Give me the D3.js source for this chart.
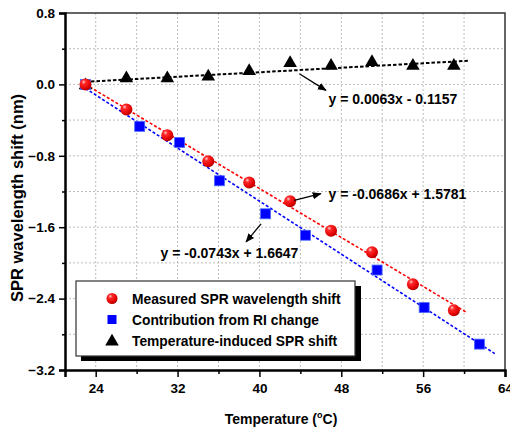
<!DOCTYPE html>
<html>
<head>
<meta charset="utf-8">
<script src="https://cdn.jsdelivr.net/npm/d3@7"></script>
<style>
  body { margin: 0; background: #fff; }
  svg { display: block; font-family: Arial, "Liberation Sans", sans-serif; font-weight: bold; }
</style>
</head>
<body>
<div id="chart"></div>
<script>
// data
var tempMeasured = [23, 27, 31, 35, 39, 43, 47, 51, 55, 59];
var measuredShift = [0.00, -0.28, -0.57, -0.86, -1.10, -1.31, -1.64, -1.88, -2.24, -2.53];
var tempRI = [23, 28.3, 32.2, 36.1, 40.6, 44.5, 51.5, 56.1, 61.5];
var riShift = [0.00, -0.47, -0.65, -1.08, -1.45, -1.69, -2.08, -2.50, -2.91];
var tempInduced = [23, 27, 31, 35, 39, 43, 47, 51, 55, 59];
var inducedShift = [0.00, 0.08, 0.08, 0.10, 0.16, 0.25, 0.22, 0.26, 0.22, 0.22];

var fitSlopes = [-0.0686, -0.0743, 0.0063];
var fitIntercepts = [1.5781, 1.6647, -0.1157];
var fitRanges = [[23, 60.3], [23, 63], [23, 60.4]];
var fitLabels = ['y = -0.0686x + 1.5781', 'y = -0.0743x + 1.6647', 'y = 0.0063x - 0.1157'];

var legendLabels = ['Measured SPR wavelength shift', 'Contribution from RI change', 'Temperature-induced SPR shift'];

var xTicks = [24, 32, 40, 48, 56, 64];
var yTicks = [0.8, 0.0, -0.8, -1.6, -2.4, -3.2];

var width = 510, height = 431;
var margin = {top: 13, right: 5, bottom: 61, left: 65};

var svg = d3.select('#chart').append('svg')
    .attr('width', width)
    .attr('height', height);

var x = d3.scaleLinear().domain([21, 64]).range([margin.left, width - margin.right]);
var y = d3.scaleLinear().domain([-3.2, 0.8]).range([height - margin.bottom, margin.top]);

var defs = svg.append('defs');
var grad = defs.append('radialGradient').attr('id', 'ball')
    .attr('cx', '35%').attr('cy', '30%').attr('r', '70%');
grad.append('stop').attr('offset', '0%').attr('stop-color', '#ffd0d0');
grad.append('stop').attr('offset', '25%').attr('stop-color', '#ff2a2a');
grad.append('stop').attr('offset', '80%').attr('stop-color', '#e00000');
grad.append('stop').attr('offset', '100%').attr('stop-color', '#b00000');

defs.append('marker').attr('id', 'arrow')
    .attr('viewBox', '0 0 10 10').attr('refX', 9).attr('refY', 5)
    .attr('markerWidth', 9).attr('markerHeight', 9)
    .attr('markerUnits', 'userSpaceOnUse')
    .attr('orient', 'auto')
  .append('path').attr('d', 'M0,1 L10,5 L0,9 Z').attr('fill', '#000');

// grid
var gridX = d3.range(24, 64, 4);
var gridY = d3.range(-2.8, 0.8, 0.4);
svg.append('g').selectAll('line').data(gridX).enter().append('line')
    .attr('x1', function(d) { return x(d); }).attr('x2', function(d) { return x(d); })
    .attr('y1', y(0.8)).attr('y2', y(-3.2))
    .attr('stroke', '#bdbdbd').attr('stroke-width', 1).attr('stroke-dasharray', '2,2');
svg.append('g').selectAll('line').data(gridY).enter().append('line')
    .attr('x1', x(21)).attr('x2', x(64))
    .attr('y1', function(d) { return y(d); }).attr('y2', function(d) { return y(d); })
    .attr('stroke', '#bdbdbd').attr('stroke-width', 1).attr('stroke-dasharray', '2,2');

// frame top/right
svg.append('path')
    .attr('d', 'M' + x(21) + ',' + y(0.8) + 'H' + x(64) + 'V' + y(-3.2))
    .attr('fill', 'none').attr('stroke', '#333').attr('stroke-width', 1.5);

// axes
var xAxis = svg.append('g')
    .attr('transform', 'translate(0,' + y(-3.2) + ')')
    .call(d3.axisBottom(x).tickValues(xTicks).tickSize(7).tickPadding(4).tickFormat(d3.format('d')));
svg.append('g')
    .attr('transform', 'translate(0,' + y(-3.2) + ')')
    .call(d3.axisBottom(x).tickValues(d3.range(28, 64, 8)).tickSize(4).tickFormat(''))
    .select('.domain').remove();
var yAxis = svg.append('g')
    .attr('transform', 'translate(' + x(21) + ',0)')
    .call(d3.axisLeft(y).tickValues(yTicks).tickSize(6).tickPadding(4).tickFormat(d3.format('.1f')));
svg.append('g')
    .attr('transform', 'translate(' + x(21) + ',0)')
    .call(d3.axisLeft(y).tickValues(d3.range(-2.8, 0.8, 0.8)).tickSize(3).tickFormat(''))
    .select('.domain').remove();

svg.selectAll('.domain').attr('stroke', '#000').attr('stroke-width', 2.5);
svg.selectAll('.tick line').attr('stroke', '#000').attr('stroke-width', 1.5);
svg.selectAll('.tick text').attr('font-size', 13.5).attr('font-weight', 'bold')
    .attr('font-family', 'Arial, "Liberation Sans", sans-serif').attr('fill', '#000');
xAxis.selectAll('.tick text').attr('dy', '0.9em');

// axis titles
var xt = svg.append('text')
    .attr('x', 281).attr('y', 424)
    .attr('text-anchor', 'middle').attr('font-size', 14)
    .text('Temperature (');
xt.append('tspan').attr('font-size', 9).attr('dy', -6).text('o');
xt.append('tspan').attr('dy', 6).text('C)');

svg.append('text')
    .attr('transform', 'translate(23,' + 198 + ') rotate(-90)')
    .attr('text-anchor', 'middle').attr('font-size', 16.5)
    .text('SPR wavelength shift (nm)');

// fit lines
var fitColors = ['#ff0000', '#0000ff', '#000000'];
var fitDash = ['3,2', '3,2', '3.5,2'];
var fits = fitSlopes.map(function(s, i) {
  return {slope: s, b: fitIntercepts[i], r: fitRanges[i], c: fitColors[i], dash: fitDash[i]};
});
svg.append('g').selectAll('line').data(fits).enter().append('line')
    .attr('x1', function(d) { return x(d.r[0]); })
    .attr('y1', function(d) { return y(d.slope * d.r[0] + d.b); })
    .attr('x2', function(d) { return x(d.r[1]); })
    .attr('y2', function(d) { return y(d.slope * d.r[1] + d.b); })
    .attr('stroke', function(d) { return d.c; })
    .attr('stroke-width', function(d, i) { return i == 2 ? 2 : 1.6; })
    .attr('stroke-dasharray', function(d) { return d.dash; });

// markers
var tri = d3.symbol().type(d3.symbolTriangle).size(80);
svg.append('g').selectAll('path').data(tempInduced).enter().append('path')
    .attr('d', tri)
    .attr('transform', function(d, i) { return 'translate(' + x(d) + ',' + (y(inducedShift[i]) + 1) + ')'; })
    .attr('fill', '#000');

svg.append('g').selectAll('rect').data(tempRI).enter().append('rect')
    .attr('x', function(d) { return x(d) - 5; })
    .attr('y', function(d, i) { return y(riShift[i]) - 5; })
    .attr('width', 10).attr('height', 10)
    .attr('fill', '#0000ff').attr('stroke', '#4a6cff').attr('stroke-width', 0.8);

svg.append('g').selectAll('circle').data(tempMeasured).enter().append('circle')
    .attr('cx', function(d) { return x(d); })
    .attr('cy', function(d, i) { return y(measuredShift[i]); })
    .attr('r', 6)
    .attr('fill', 'url(#ball)');

// annotations: [arrow from, arrow to, text anchor point]
var notes = [
  {from: [43.4, -1.30], to: [46.0, -1.225], at: [46.75, -1.28], anchor: 'start', text: fitLabels[0]},
  {from: [40.16, -1.562], to: [38.7, -1.764], at: [43.8, -1.95], anchor: 'end', text: fitLabels[1]},
  {from: [43.9, 0.119], to: [46.5, -0.067], at: [46.75, -0.215], anchor: 'start', text: fitLabels[2]}
];
var ng = svg.append('g');
ng.selectAll('line').data(notes).enter().append('line')
    .attr('x1', function(d) { return x(d.from[0]); }).attr('y1', function(d) { return y(d.from[1]); })
    .attr('x2', function(d) { return x(d.to[0]); }).attr('y2', function(d) { return y(d.to[1]); })
    .attr('stroke', '#000').attr('stroke-width', 1.3)
    .attr('marker-end', 'url(#arrow)');
ng.selectAll('text').data(notes).enter().append('text')
    .attr('x', function(d) { return x(d.at[0]); }).attr('y', function(d) { return y(d.at[1]); })
    .attr('text-anchor', function(d) { return d.anchor; })
    .attr('font-size', 14)
    .text(function(d) { return d.text; });

// legend
var lg = svg.append('g').attr('transform', 'translate(76,281)');
lg.append('rect').attr('x', 5).attr('y', 5).attr('width', 280).attr('height', 75).attr('fill', '#000');
lg.append('rect').attr('x', 0).attr('y', 0).attr('width', 279).attr('height', 75)
    .attr('fill', '#fff').attr('stroke', '#333').attr('stroke-width', 1.2);
var rows = lg.selectAll('g.row').data(legendLabels).enter().append('g')
    .attr('transform', function(d, i) { return 'translate(0,' + (17.5 + i * 21) + ')'; });
rows.append('text').attr('x', 56).attr('y', 5).attr('font-size', 13.8)
    .text(function(d) { return d; });
rows.filter(function(d, i) { return i == 0; }).append('circle')
    .attr('cx', 36).attr('cy', 0).attr('r', 5.5).attr('fill', 'url(#ball)');
rows.filter(function(d, i) { return i == 1; }).append('rect')
    .attr('x', 31.5).attr('y', -4.5).attr('width', 9).attr('height', 9).attr('fill', '#0000ff');
rows.filter(function(d, i) { return i == 2; }).append('path')
    .attr('d', tri).attr('transform', 'translate(36,1)').attr('fill', '#000');
</script>
</body>
</html>
